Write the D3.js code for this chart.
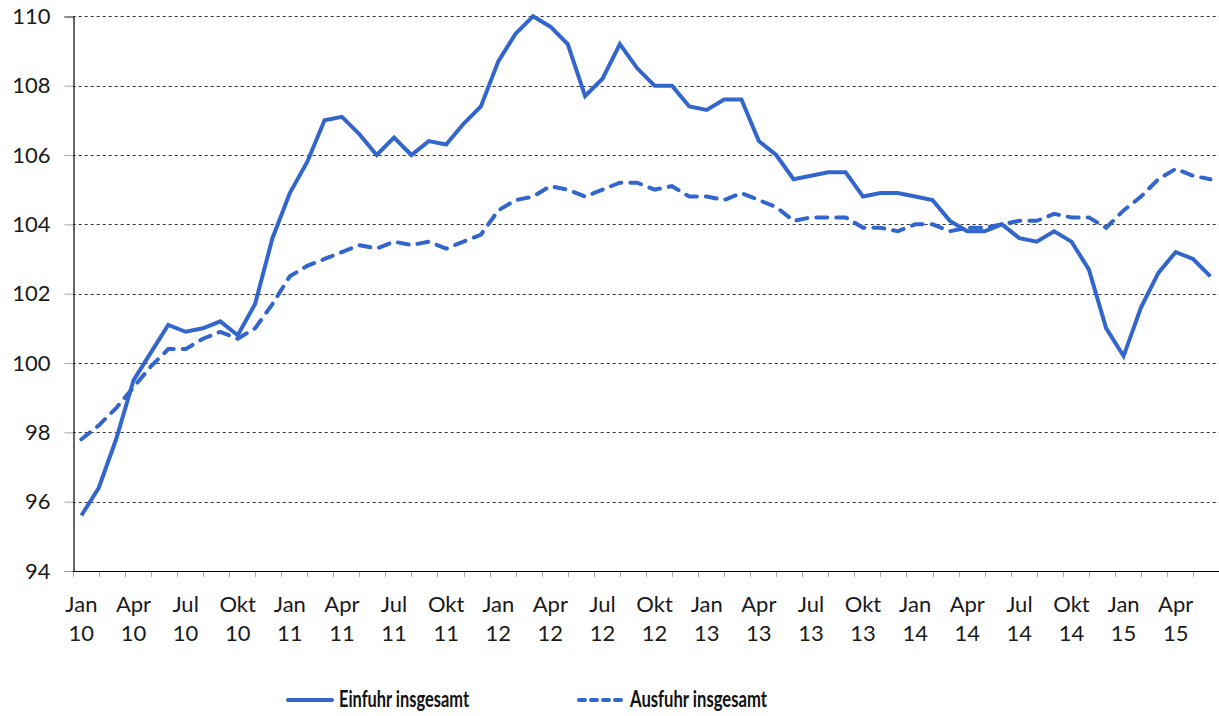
<!DOCTYPE html>
<html>
<head>
<meta charset="utf-8">
<script src="https://cdn.jsdelivr.net/npm/d3@7"></script>
<style>
    body { margin: 0; background: #fff; }
    svg { display: block; }
</style>
</head>
<body>
<svg></svg>
<script>
var monthNames = ["Jan", "Feb", "Mär", "Apr", "Mai", "Jun", "Jul", "Aug", "Sep", "Okt", "Nov", "Dez"];
var years = ["10", "11", "12", "13", "14", "15"];

var einfuhr = [95.6, 96.4, 97.8, 99.5, 100.3, 101.1, 100.9, 101.0, 101.2, 100.8,
    101.7, 103.6, 104.9, 105.8, 107.0, 107.1, 106.6, 106.0, 106.5, 106.0,
    106.4, 106.3, 106.9, 107.4, 108.7, 109.5, 110.0, 109.7, 109.2, 107.7,
    108.2, 109.2, 108.5, 108.0, 108.0, 107.4, 107.3, 107.6, 107.6, 106.4,
    106.0, 105.3, 105.4, 105.5, 105.5, 104.8, 104.9, 104.9, 104.8, 104.7,
    104.1, 103.8, 103.8, 104.0, 103.6, 103.5, 103.8, 103.5, 102.7, 101.0,
    100.2, 101.6, 102.6, 103.2, 103.0, 102.5];

var ausfuhr = [97.8, 98.2, 98.7, 99.3, 99.9, 100.4, 100.4, 100.7, 100.9, 100.7,
    101.0, 101.7, 102.5, 102.8, 103.0, 103.2, 103.4, 103.3, 103.5, 103.4,
    103.5, 103.3, 103.5, 103.7, 104.4, 104.7, 104.8, 105.1, 105.0, 104.8,
    105.0, 105.2, 105.2, 105.0, 105.1, 104.8, 104.8, 104.7, 104.9, 104.7,
    104.5, 104.1, 104.2, 104.2, 104.2, 103.9, 103.9, 103.8, 104.0, 104.0,
    103.8, 103.9, 103.9, 104.0, 104.1, 104.1, 104.3, 104.2, 104.2, 103.9,
    104.4, 104.8, 105.3, 105.6, 105.4, 105.3];

var yTicks = [94, 96, 98, 100, 102, 104, 106, 108, 110];

// one category per month, Jan 10 .. Jun 15
var categories = [];
years.forEach(function (y) {
    monthNames.forEach(function (m) {
        if (categories.length < einfuhr.length) categories.push(m + " " + y);
    });
});

var w = 1219;
var h = 716;
var plotLeft = 72.7;
var plotRight = plotLeft + 66 * 17.37;
var plotTop = 16.3;
var plotBottom = 571;

var blue = "#3366cc";
var font = "Lato, 'Open Sans', sans-serif";

var svg = d3.select("svg")
    .attr("width", w)
    .attr("height", h);

var x = d3.scaleBand()
    .domain(categories)
    .range([plotLeft, plotRight]);

// continuous version of x for the tick marks between categories
var xi = d3.scaleLinear()
    .domain([0, categories.length])
    .range([plotLeft, plotRight]);

var y = d3.scaleLinear()
    .domain([94, 110])
    .range([plotBottom, plotTop]);

// gridlines
svg.append("g")
    .selectAll("line")
    .data(yTicks.slice(1))
    .enter()
    .append("line")
    .attr("x1", plotLeft)
    .attr("x2", w)
    .attr("y1", function (d) { return Math.round(y(d)) + 0.5; })
    .attr("y2", function (d) { return Math.round(y(d)) + 0.5; })
    .attr("stroke", "#333")
    .attr("stroke-width", 1)
    .attr("stroke-dasharray", "3,3");

// y axis
var yAxis = svg.append("g")
    .attr("transform", "translate(" + (Math.round(plotLeft) + 0.5) + ",0)")
    .call(d3.axisLeft(y)
        .tickValues(yTicks)
        .tickSize(9)
        .tickPadding(14)
        .tickFormat(d3.format("d")));
yAxis.select(".domain").attr("stroke", "#000").attr("stroke-width", 1.2);
yAxis.selectAll(".tick line").attr("stroke", "#aaa");
yAxis.selectAll(".tick text")
    .attr("font-family", font)
    .attr("font-size", "22px")
    .attr("fill", "#1a1a1a");

// x axis line and minor ticks (every 1.5 months)
svg.append("line")
    .attr("x1", plotLeft)
    .attr("x2", w)
    .attr("y1", Math.round(plotBottom) + 0.5)
    .attr("y2", Math.round(plotBottom) + 0.5)
    .attr("stroke", "#000")
    .attr("stroke-width", 1.2);

svg.append("g")
    .selectAll("line")
    .data(d3.range(0, categories.length + 0.1, 1.5))
    .enter()
    .append("line")
    .attr("x1", function (d) { return Math.round(xi(d)) + 0.5; })
    .attr("x2", function (d) { return Math.round(xi(d)) + 0.5; })
    .attr("y1", plotBottom + 1)
    .attr("y2", plotBottom + 6)
    .attr("stroke", "#aaa");

// quarter labels, two lines each
var labels = svg.append("g")
    .selectAll("text")
    .data(categories.filter(function (d, i) { return i % 3 === 0; }))
    .enter()
    .append("text")
    .attr("text-anchor", "middle")
    .attr("font-family", font)
    .attr("font-size", "22px")
    .attr("fill", "#1a1a1a");

labels.append("tspan")
    .attr("x", function (d) { return x(d) + x.bandwidth() / 2; })
    .attr("y", 612)
    .text(function (d) { return d.split(" ")[0]; });
labels.append("tspan")
    .attr("x", function (d) { return x(d) + x.bandwidth() / 2; })
    .attr("y", 641)
    .text(function (d) { return d.split(" ")[1]; });

var line = d3.line()
    .x(function (d, i) { return x(categories[i]) + x.bandwidth() / 2; })
    .y(function (d) { return y(d); });

svg.append("path")
    .datum(ausfuhr)
    .attr("d", line)
    .attr("fill", "none")
    .attr("stroke", blue)
    .attr("stroke-width", 4)
    .attr("stroke-linecap", "round")
    .attr("stroke-dasharray", "11,9");

svg.append("path")
    .datum(einfuhr)
    .attr("d", line)
    .attr("fill", "none")
    .attr("stroke", blue)
    .attr("stroke-width", 4)
    .attr("stroke-linejoin", "miter");

// legend (the original font is a condensed bold, so squeeze Lato a bit)
var legend = [
    { name: "Einfuhr insgesamt", x: 286, dash: null, len: 130 },
    { name: "Ausfuhr insgesamt", x: 577, dash: "6,6", len: 137 }
];

var items = svg.append("g")
    .selectAll("g")
    .data(legend)
    .enter()
    .append("g")
    .attr("transform", function (d) { return "translate(" + d.x + ",700)"; });

items.append("line")
    .attr("x1", 2)
    .attr("x2", 46)
    .attr("stroke", blue)
    .attr("stroke-width", 4)
    .attr("stroke-linecap", "round")
    .attr("stroke-dasharray", function (d) { return d.dash; });

items.append("text")
    .attr("x", 53)
    .attr("y", 7)
    .attr("font-family", font)
    .attr("font-size", "22px")
    .attr("font-weight", "bold")
    .attr("fill", "#111")
    .attr("textLength", function (d) { return d.len; })
    .attr("lengthAdjust", "spacingAndGlyphs")
    .text(function (d) { return d.name; });
</script>
</body>
</html>
